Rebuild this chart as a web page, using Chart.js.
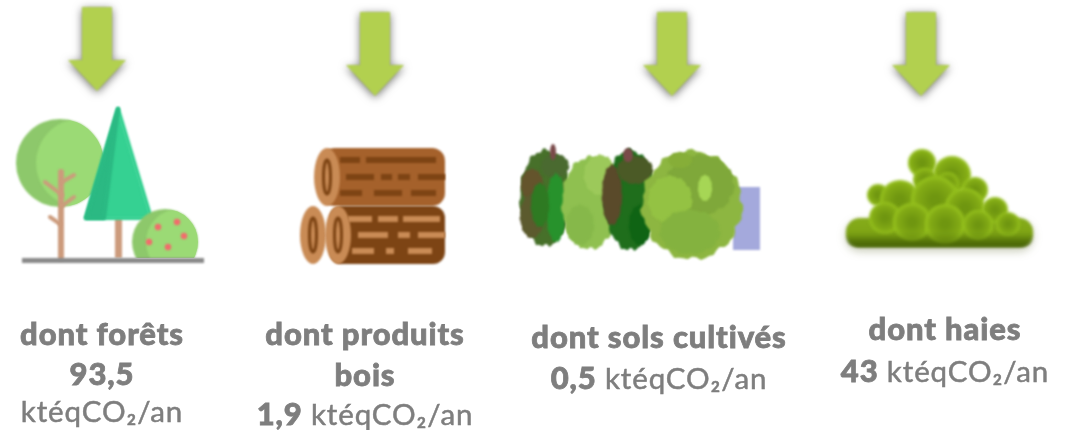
<!DOCTYPE html>
<html>
<head>
<meta charset="utf-8">
<style>
  html, body { margin: 0; background: #fff; overflow: hidden; }
  canvas { display: block; }
</style>
<script src="https://cdn.jsdelivr.net/npm/chart.js@4/dist/chart.umd.min.js"></script>
</head>
<body>
<canvas id="myChart" width="1065" height="430"></canvas>
<script>
// data
const categories = ["dont forêts", "dont produits bois", "dont sols cultivés", "dont haies"];
const values = [93.5, 1.9, 0.5, 43];
const unit = "ktéqCO₂/an";

const fmt = (v) => String(v).replace(".", ",");

// how each column is laid out around its tick on the x axis
const columns = [
  { arrow: 0, arrowTop: 7, icon: drawTree, text: 5, split: ["dont forêts"], rows: [335, 375, 412], unitAlone: true },
  { arrow: 3, arrowTop: 12, icon: drawLogs, text: -7, split: ["dont produits", "bois"], rows: [335, 376, 415] },
  { arrow: 25, arrowTop: 12, icon: drawCrops, text: 12, split: ["dont sols cultivés"], rows: [338, 379] },
  { arrow: -1, arrowTop: 12, icon: drawHedge, text: 23, split: ["dont haies"], rows: [330, 372] },
];

const GREY = "#7e7e7e";
const FONT = "Lato, 'DejaVu Sans', sans-serif";

function drawArrow(ctx, x, top) {
  ctx.save();
  ctx.shadowColor = "rgba(0,0,0,0.55)";
  ctx.shadowBlur = 8;
  ctx.shadowOffsetY = 2;
  ctx.fillStyle = "#b2d04f";
  ctx.beginPath();
  ctx.moveTo(x - 15, top);
  ctx.lineTo(x + 15, top);
  ctx.lineTo(x + 15, top + 53);
  ctx.lineTo(x + 29, top + 53);
  ctx.lineTo(x, top + 84);
  ctx.lineTo(x - 29, top + 53);
  ctx.lineTo(x - 15, top + 53);
  ctx.closePath();
  ctx.fill();
  ctx.restore();
}

function crescent(ctx, cx, cy, r, shift, dark, light) {
  ctx.save();
  ctx.beginPath();
  ctx.arc(cx, cy, r, 0, Math.PI * 2);
  ctx.fillStyle = dark;
  ctx.fill();
  ctx.clip();
  ctx.beginPath();
  ctx.arc(cx + shift, cy, r, 0, Math.PI * 2);
  ctx.fillStyle = light;
  ctx.fill();
  ctx.restore();
}

function stroke(ctx, color, width, pts) {
  ctx.strokeStyle = color;
  ctx.lineWidth = width;
  ctx.lineCap = "round";
  ctx.beginPath();
  pts.forEach((p, i) => (i ? ctx.lineTo(p[0], p[1]) : ctx.moveTo(p[0], p[1])));
  ctx.stroke();
}

function drawTree(ctx) {
  // big round tree
  crescent(ctx, 60, 163, 44, 20, "#8dc86b", "#9bda75");
  const wood = "#cc9b7c";
  stroke(ctx, wood, 6, [[61, 172], [61, 258]]);
  stroke(ctx, wood, 4, [[62, 195], [45, 182]]);
  stroke(ctx, wood, 4, [[62, 182], [74, 175]]);
  stroke(ctx, wood, 4, [[62, 206], [74, 197]]);
  stroke(ctx, wood, 4, [[60, 224], [50, 217]]);
  // cone tree
  ctx.fillStyle = wood;
  ctx.fillRect(115, 218, 7, 40);
  ctx.lineJoin = "round";
  ctx.lineWidth = 4;
  ctx.fillStyle = "#35d192";
  ctx.strokeStyle = "#35d192";
  ctx.beginPath();
  ctx.moveTo(118, 109);
  ctx.lineTo(151, 218);
  ctx.lineTo(86, 218);
  ctx.closePath();
  ctx.fill();
  ctx.stroke();
  ctx.fillStyle = "#2bb983";
  ctx.strokeStyle = "#2bb983";
  ctx.beginPath();
  ctx.moveTo(118, 109);
  ctx.lineTo(104, 218);
  ctx.lineTo(86, 218);
  ctx.closePath();
  ctx.fill();
  ctx.stroke();
  // bush
  ctx.save();
  ctx.beginPath();
  ctx.rect(120, 200, 90, 58);
  ctx.clip();
  crescent(ctx, 165, 242, 33, 14, "#8dc86b", "#9bda75");
  ctx.restore();
  ctx.fillStyle = "#f26c6c";
  [[158, 227], [177, 222], [184, 236], [149, 242], [168, 247]].forEach((p) => {
    ctx.beginPath();
    ctx.arc(p[0], p[1], 3.2, 0, Math.PI * 2);
    ctx.fill();
  });
  // ground
  ctx.fillStyle = "#8a8a8a";
  ctx.fillRect(22, 258, 182, 5);
}

function logEnd(ctx, x, y, light, dark) {
  ctx.fillStyle = light;
  ctx.beginPath();
  ctx.ellipse(x, y, 13, 29, 0, 0, Math.PI * 2);
  ctx.fill();
  ctx.strokeStyle = dark;
  ctx.lineWidth = 3;
  ctx.beginPath();
  ctx.ellipse(x, y, 3.5, 17, 0, 0, Math.PI * 2);
  ctx.stroke();
}

function dashes(ctx, color, list) {
  ctx.fillStyle = color;
  list.forEach((d) => ctx.fillRect(d[0], d[1], d[2] - d[0], 6));
}

function drawLogs(ctx) {
  const mid = "#a5612b", dark = "#7d4414", light = "#c98b55";
  ctx.fillStyle = mid;
  ctx.beginPath();
  ctx.roundRect(322, 148, 123, 58, 13);
  ctx.fill();
  dashes(ctx, dark, [
    [340, 157, 360], [366, 157, 436],
    [346, 174, 374], [381, 174, 392], [398, 174, 410], [418, 174, 445],
    [340, 190, 362], [374, 190, 402], [411, 190, 436],
  ]);
  ctx.fillStyle = dark;
  ctx.beginPath();
  ctx.roundRect(330, 206, 115, 58, 12);
  ctx.fill();
  dashes(ctx, light, [
    [348, 216, 372], [378, 216, 398], [403, 216, 440],
    [358, 232, 388], [398, 232, 410], [418, 232, 445],
    [352, 248, 374], [386, 248, 394], [408, 248, 432],
  ]);
  logEnd(ctx, 327, 177, light, dark);
  logEnd(ctx, 313, 235, light, dark);
  logEnd(ctx, 338, 235, light, dark);
}

// jagged leaf mass, the outline wobble is only decoration
function leafBlob(ctx, cx, cy, rx, ry, color) {
  ctx.fillStyle = color;
  ctx.beginPath();
  for (let a = 0; a < 72; a++) {
    const t = (a / 72) * Math.PI * 2;
    const w = 1 + 0.03 * Math.sin(t * 11) + 0.025 * Math.sin(t * 23 + 1);
    const px = cx + Math.cos(t) * rx * w;
    const py = cy + Math.sin(t) * ry * w;
    a ? ctx.lineTo(px, py) : ctx.moveTo(px, py);
  }
  ctx.closePath();
  ctx.fill();
}

function drawCrops(ctx) {
  ctx.filter = "blur(1.2px)";
  ctx.fillStyle = "#a4a9dc";
  ctx.fillRect(733, 187, 27, 63);
  [
    [545, 198, 25, 48, "#47702a"], [532, 185, 11, 16, "#64542c"], [555, 166, 14, 12, "#4a6a30"],
    [532, 216, 12, 22, "#5c5a2e"], [556, 208, 10, 34, "#27922c"], [540, 205, 9, 22, "#2e7a22"],
    [590, 203, 28, 46, "#8fc050"], [600, 175, 16, 20, "#9cc95a"], [580, 225, 14, 20, "#86b84a"],
    [630, 200, 25, 50, "#1f6e1c"], [612, 195, 10, 30, "#5a4a2a"], [635, 170, 18, 14, "#4b5a26"],
    [628, 155, 5, 7, "#7a4a4a"], [640, 225, 11, 20, "#0f6414"], [553, 152, 3, 8, "#7a4a4a"],
    [692, 205, 50, 54, "#8db641"], [700, 185, 34, 30, "#7fa83a"], [670, 200, 22, 24, "#94c243"],
    [690, 232, 30, 22, "#84b23f"], [705, 188, 7, 13, "#a6d655"], [680, 160, 12, 8, "#86ae38"],
  ].forEach((b) => leafBlob(ctx, b[0], b[1], b[2], b[3], b[4]));
}

function drawHedge(ctx) {
  ctx.filter = "blur(1.6px)";
  ctx.save();
  ctx.shadowColor = "rgba(90,100,40,0.35)";
  ctx.shadowBlur = 8;
  ctx.shadowOffsetY = 4;
  const base = ctx.createLinearGradient(0, 217, 0, 248);
  base.addColorStop(0, "#86ad1a");
  base.addColorStop(0.6, "#7da314");
  base.addColorStop(1, "#4c6a06");
  ctx.fillStyle = base;
  ctx.beginPath();
  ctx.roundRect(846, 218, 187, 29, 14);
  ctx.fill();
  ctx.restore();
  [
    [922, 163, 14], [952, 175, 19], [925, 180, 12], [948, 183, 11], [975, 190, 13],
    [878, 195, 11], [900, 200, 20], [935, 200, 24], [965, 208, 20], [995, 210, 13],
    [885, 218, 16], [912, 222, 19], [945, 224, 20], [978, 225, 15], [1008, 224, 12],
  ].forEach((c) => {
    const g = ctx.createRadialGradient(c[0], c[1], c[2] * 0.2, c[0], c[1], c[2]);
    g.addColorStop(0, "#6f9610");
    g.addColorStop(0.7, "#83ab15");
    g.addColorStop(1, "#98c41f");
    ctx.fillStyle = g;
    ctx.beginPath();
    ctx.arc(c[0], c[1], c[2], 0, Math.PI * 2);
    ctx.fill();
  });
  const under = ctx.createLinearGradient(0, 232, 0, 248);
  under.addColorStop(0, "rgba(76,106,6,0)");
  under.addColorStop(1, "rgba(70,98,6,0.95)");
  ctx.fillStyle = under;
  ctx.beginPath();
  ctx.roundRect(846, 226, 187, 21, 10);
  ctx.fill();
}

// one centred line made of [text, bold] runs, thickened to match the heavy source type
function textLine(ctx, cx, y, runs) {
  const fontFor = (bold) => (bold ? "900 31px " + FONT : "400 29.5px " + FONT);
  let w = 0;
  runs.forEach((r) => {
    ctx.font = fontFor(r[1]);
    w += ctx.measureText(r[0]).width;
  });
  let x = cx - w / 2;
  runs.forEach((r) => {
    ctx.font = fontFor(r[1]);
    ctx.fillText(r[0], x, y);
    ctx.lineWidth = r[1] ? 0.8 : 0.5;
    ctx.strokeText(r[0], x, y);
    x += ctx.measureText(r[0]).width;
  });
}

const infographic = {
  id: "infographic",
  afterDatasetsDraw(chart) {
    const { ctx, scales } = chart;
    ctx.save();
    columns.forEach((col, i) => {
      const tick = scales.x.getPixelForValue(i);
      ctx.save();
      ctx.filter = "blur(0.8px)";
      drawArrow(ctx, tick + col.arrow, col.arrowTop);
      col.icon(ctx);
      ctx.restore();
      ctx.save();
      ctx.filter = "blur(0.7px)";
      ctx.fillStyle = GREY;
      ctx.strokeStyle = GREY;
      ctx.textBaseline = "middle";
      ctx.letterSpacing = "0.9px";
      const lines = col.split.map((s) => [[s, true]]);
      if (col.unitAlone) {
        lines.push([[fmt(values[i]), true]]);
        lines.push([[unit, false]]);
      } else {
        lines.push([[fmt(values[i]) + " ", true], [unit, false]]);
      }
      lines.forEach((runs, r) => textLine(ctx, tick + col.text, col.rows[r], runs));
      ctx.restore();
    });
    ctx.restore();
  },
};

new Chart(document.getElementById("myChart"), {
  type: "line",
  data: {
    labels: categories,
    datasets: [{ data: values, showLine: false, pointRadius: 0 }],
  },
  options: {
    responsive: false,
    animation: false,
    layout: { padding: { left: 97, right: 143, top: 0, bottom: 0 } },
    plugins: { legend: { display: false }, tooltip: { enabled: false } },
    scales: {
      x: { display: false },
      y: { display: false, beginAtZero: true },
    },
  },
  plugins: [infographic],
});
</script>
</body>
</html>
